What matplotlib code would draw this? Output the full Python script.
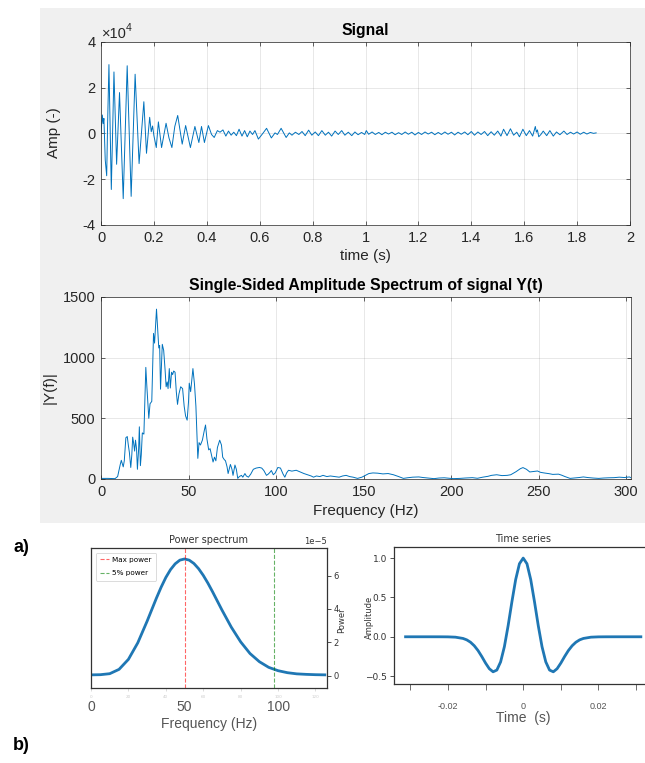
import matplotlib
matplotlib.use("Agg")
import matplotlib.pyplot as plt
from matplotlib.patches import Rectangle

# ---------------- data ----------------
# Signal: turning points (time s, amplitude in units of 1e4)
sig_t = [0.000, 0.005, 0.008, 0.011, 0.016, 0.0215, 0.025, 0.030, 0.039, 0.049,
         0.059, 0.070, 0.084, 0.099, 0.114, 0.129, 0.144, 0.162, 0.172, 0.184,
         0.190, 0.195, 0.200, 0.209, 0.217, 0.229, 0.246, 0.257, 0.268, 0.279,
         0.290, 0.307, 0.320, 0.338, 0.355, 0.370, 0.380, 0.391, 0.406, 0.418,
         0.428, 0.440, 0.450, 0.461, 0.472, 0.482, 0.492, 0.502, 0.512, 0.522,
         0.533, 0.543, 0.553, 0.563, 0.573, 0.582, 0.595, 0.612, 0.626, 0.644,
         0.658, 0.667, 0.681, 0.700, 0.712, 0.722, 0.735, 0.748, 0.760, 0.772,
         0.785, 0.797, 0.810, 0.822, 0.835, 0.848, 0.860, 0.872, 0.885, 0.897,
         0.910, 0.922, 0.935, 0.948, 0.960, 0.972, 0.985, 0.997, 1.003, 1.012,
         1.025, 1.037, 1.050, 1.062, 1.075, 1.087, 1.100, 1.112, 1.125, 1.137,
         1.150, 1.162, 1.175, 1.187, 1.200, 1.212, 1.225, 1.237, 1.250, 1.262,
         1.275, 1.287, 1.300, 1.312, 1.325, 1.337, 1.350, 1.362, 1.375, 1.387,
         1.400, 1.412, 1.425, 1.437, 1.450, 1.462, 1.475, 1.487, 1.500, 1.512,
         1.522, 1.535, 1.548, 1.560, 1.572, 1.582, 1.595, 1.608, 1.620, 1.632,
         1.642, 1.646, 1.650, 1.655, 1.663, 1.672, 1.685, 1.697, 1.710, 1.722,
         1.735, 1.750, 1.762, 1.775, 1.787, 1.800, 1.812, 1.825, 1.837, 1.850,
         1.862, 1.872]
sig_a = [0.00, 0.80, 0.43, 0.65, -1.16, -1.85, 0.43, 3.00, -2.45, 2.68,
         -1.35, 1.78, -2.85, 2.95, -2.75, 2.58, -1.32, 1.38, -0.87, 0.70,
         0.07, 0.32, -0.10, -0.62, 0.50, -0.62, 0.44, -0.20, -0.62, 0.30,
         0.78, -0.47, 0.34, -0.62, 0.30, -0.40, 0.30, -0.40, 0.34, -0.05,
         -0.18, 0.12, 0.05, 0.15, -0.12, 0.10, -0.08, 0.05, -0.10, 0.18,
         -0.12, 0.12, -0.15, 0.10, -0.05, 0.12, -0.25, 0.00, 0.22, -0.20,
         0.02, -0.05, 0.22, -0.18, 0.02, -0.08, 0.05, -0.05, 0.08, -0.10,
         0.14, -0.08, 0.06, -0.10, 0.12, -0.08, 0.05, -0.12, 0.10, -0.05,
         0.12, -0.08, 0.05, -0.10, 0.06, -0.06, 0.04, -0.05, 0.12, -0.04,
         0.06, -0.05, 0.04, -0.06, 0.05, -0.03, 0.05, -0.06, 0.03, -0.05,
         0.06, -0.04, 0.05, -0.07, 0.04, -0.05, 0.06, -0.03, 0.05, -0.06,
         0.04, -0.05, 0.06, -0.04, 0.05, -0.07, 0.05, -0.04, 0.06, -0.06,
         0.08, -0.08, 0.06, -0.05, 0.08, -0.10, 0.07, -0.08, 0.10, -0.12,
         0.18, -0.10, 0.20, -0.08, 0.05, -0.15, 0.18, -0.10, 0.12, -0.12,
         0.30, 0.05, 0.15, -0.15, -0.05, 0.10, -0.10, 0.12, -0.12, 0.06,
         -0.06, 0.10, -0.05, 0.05, -0.03, 0.06, -0.04, 0.05, -0.03, 0.04,
         0.00, 0.02]

# Single-sided amplitude spectrum (Hz, |Y(f)|)
spec_f = [0, 4, 8, 9.5, 11.0, 11.6, 12.7, 13.3, 14.2, 15.0, 15.6, 16.2, 17.0, 17.6,
          18.1, 18.6, 19.2, 19.7, 20.3, 20.8, 21.5, 21.9, 22.5, 23.0, 23.6, 24.5,
          25.6, 26.2, 27.3, 28.0, 29.0, 30.0, 30.6, 31.7, 32.5, 33.0, 33.5, 34.0,
          35.0, 35.8, 36.6, 37.2, 37.8, 38.3, 39.0, 39.6, 40.3, 40.9, 41.5, 42.3,
          43.0, 43.7, 44.5, 45.5, 46.6, 47.5, 48.3, 49.2, 50.0, 50.4, 51.2, 52.5,
          53.4, 54.2, 55.3, 56.0, 56.8, 57.9, 59.0, 59.7, 60.5, 61.5, 62.3, 63.2,
          64.0, 64.8, 65.6, 66.5, 67.8, 68.8, 69.5, 70.4, 71.1, 72.0, 72.6, 73.9,
          74.8, 75.4, 76.5, 77.3, 78.1, 79.0, 80.2, 81.0, 82.2, 83.0, 84.2, 85.5,
          87.0, 88.6, 90.5, 91.8, 93.0, 94.5, 95.5, 96.5, 97.3, 98.4, 99.5, 101.0,
          102.5, 104.0, 105.0, 106.0, 107.1, 109.0, 111.5, 113.5, 115.9, 118.0,
          120.0, 121.4, 123.0, 125.0, 126.8, 129.0, 131.0, 133.4, 136.0, 138.0,
          140.0, 142.0, 144.0, 146.5, 149.0, 151.0, 153.0, 155.3, 158.0, 161.0,
          164.0, 167.0, 170.0, 172.7, 175.0, 178.0, 181.5, 184.0, 187.0, 190.2,
          193.0, 196.0, 199.0, 201.2, 205.0, 208.0, 212.1, 215.0, 218.0, 221.0,
          223.0, 226.0, 229.0, 232.0, 234.0, 237.0, 239.5, 241.0, 243.0, 244.9,
          247.0, 249.3, 251.0, 253.0, 255.9, 258.0, 261.3, 263.0, 265.0, 267.9,
          270.0, 273.0, 275.5, 278.0, 281.0, 284.3, 287.0, 290.0, 293.0, 296.0,
          299.0, 301.8, 302.7]
spec_a = [5, 5, 3, 20, 120, 154, 100, 150, 340, 350, 280, 220, 95, 200,
          345, 300, 230, 320, 250, 80, 250, 430, 110, 200, 380, 370,
          920, 760, 500, 620, 640, 1200, 1120, 1400, 1200, 1080, 1100, 740,
          1110, 1060, 900, 760, 800, 745, 910, 750, 880, 860, 890, 880,
          720, 615, 700, 760, 745, 600, 520, 485, 640, 790, 720, 910,
          780, 600, 170, 300, 280, 320, 400, 445, 330, 240, 250, 190,
          140, 180, 150, 260, 320, 280, 180, 160, 150, 100, 45, 120,
          80, 30, 115, 80, 5, 20, 30, 15, 45, 25, 15, 40,
          80, 90, 95, 90, 70, 30, 40, 55, 70, 35, 50, 95,
          90, 40, 15, 50, 72, 65, 72, 60, 45, 35,
          25, 15, 25, 20, 30, 20, 25, 20, 15, 25,
          30, 20, 15, 5, 15, 30, 45, 50, 48, 42,
          45, 35, 20, 5, 10, 15, 17, 12, 8, 3,
          8, 10, 6, 3, 5, 8, 11, 6, 15, 22,
          30, 35, 28, 30, 35, 60, 85, 94, 80, 58,
          62, 66, 55, 50, 44, 38, 40, 32, 20, 5,
          8, 12, 17, 12, 8, 5, 8, 10, 11, 15,
          12, 17, 10]

# Power spectrum (Hz, power in units of 1e-5)
pow_f = [0, 5, 10, 15, 20, 25, 30, 35, 37.5, 40, 42.5, 45, 47.5, 50, 52.5, 55,
         57.5, 60, 62.5, 65, 70, 75, 80, 85, 90, 95, 100, 105, 110, 115, 120, 125]
pow_v = [0.05, 0.06, 0.12, 0.38, 0.98, 1.97, 3.27, 4.66, 5.31, 5.89, 6.36, 6.71,
         6.93, 7.00, 6.93, 6.73, 6.42, 6.02, 5.55, 5.03, 3.94, 2.91, 2.03, 1.33,
         0.84, 0.50, 0.30, 0.18, 0.11, 0.08, 0.06, 0.05]
max_power_freq = 50.0
five_pct_freq = 97.9

# Time series (Ricker wavelet), time s, amplitude
ts_t = [-0.03125, -0.025, -0.022, -0.020, -0.018, -0.016, -0.015, -0.014, -0.013,
        -0.012, -0.011, -0.010, -0.009, -0.008, -0.007, -0.006, -0.005, -0.004,
        -0.003, -0.002, -0.001, 0.0, 0.001, 0.002, 0.003, 0.004, 0.005, 0.006,
        0.007, 0.008, 0.009, 0.010, 0.011, 0.012, 0.013, 0.014, 0.015, 0.016,
        0.018, 0.020, 0.022, 0.025, 0.03125]
ts_a = [0.0, 0.0, -0.0002, -0.001, -0.005, -0.021, -0.039, -0.069, -0.114,
        -0.175, -0.251, -0.334, -0.406, -0.445, -0.423, -0.319, -0.126, 0.142,
        0.445, 0.727, 0.928, 1.0, 0.928, 0.727, 0.445, 0.142, -0.126, -0.319,
        -0.423, -0.445, -0.406, -0.334, -0.251, -0.175, -0.114, -0.069, -0.039, -0.021,
        -0.005, -0.001, -0.0002, 0.0, 0.0]

# ---------------- figure ----------------
W, H = 645, 763
fig = plt.figure(figsize=(W / 100, H / 100), dpi=100)
fig.patch.set_facecolor("white")


def box(l, t, r, b):
    return [l / W, 1 - b / H, (r - l) / W, (b - t) / H]


def fx(x):
    return x / W


def fy(y):
    return 1 - y / H


fig.add_artist(Rectangle((fx(40), fy(523)), (645 - 40) / W, (523 - 8) / H,
                         transform=fig.transFigure, facecolor="#f0f0f0",
                         edgecolor="none", zorder=0))

mat_font = "Liberation Sans"
dark = "#262626"
mblue = "#0072BD"


def matlab_style(ax):
    ax.set_facecolor("white")
    for s in ax.spines.values():
        s.set_color(dark)
        s.set_linewidth(0.5)
    ax.tick_params(direction="in", length=3, width=0.5, colors=dark,
                   top=True, right=True, labelsize=10.5, pad=4)
    for lab in ax.get_xticklabels() + ax.get_yticklabels():
        lab.set_fontfamily(mat_font)
    ax.grid(True, color=dark, alpha=0.12, linewidth=0.6)
    ax.set_axisbelow(True)


# --- Signal ---
ax1 = fig.add_axes(box(101, 41.7, 630, 225))
ax1.plot(sig_t, sig_a, color=mblue, lw=0.7)
ax1.set_xlim(0, 2)
ax1.set_ylim(-4, 4)
ax1.set_xticks([0, 0.2, 0.4, 0.6, 0.8, 1, 1.2, 1.4, 1.6, 1.8, 2])
ax1.set_xticklabels(["0", "0.2", "0.4", "0.6", "0.8", "1", "1.2", "1.4", "1.6", "1.8", "2"])
ax1.set_yticks([-4, -2, 0, 2, 4])
ax1.set_yticklabels(["-4", "-2", "0", "2", "4"])
matlab_style(ax1)
fig.text(fx(365.5), fy(31), "Signal", ha="center", va="center", fontsize=11.3,
         fontweight="bold", family=mat_font, color="black")
fig.text(fx(101.5), fy(34), "\u00d710", ha="left", va="center", fontsize=10.5,
         family=mat_font, color=dark)
fig.text(fx(125.5), fy(28), "4", ha="left", va="center", fontsize=7.5,
         family=mat_font, color=dark)
fig.text(fx(365.5), fy(256), "time (s)", ha="center", va="center", fontsize=11,
         family=mat_font, color=dark)
fig.text(fx(54), fy(133), "Amp (-)", ha="center", va="center", fontsize=11,
         family=mat_font, color=dark, rotation=90)

# --- Spectrum ---
ax2 = fig.add_axes(box(101, 297, 631, 479))
ax2.plot(spec_f, spec_a, color=mblue, lw=0.7)
ax2.set_xlim(0, 302.7)
ax2.set_ylim(0, 1500)
ax2.set_xticks([0, 50, 100, 150, 200, 250, 300])
ax2.set_yticks([0, 500, 1000, 1500])
matlab_style(ax2)
fig.text(fx(366), fy(286), "Single-Sided Amplitude Spectrum of signal Y(t)",
         ha="center", va="center", fontsize=11.3, fontweight="bold",
         family=mat_font, color="black")
fig.text(fx(366), fy(511), "Frequency (Hz)", ha="center", va="center",
         fontsize=11, family=mat_font, color=dark)
fig.text(fx(50), fy(388), "|Y(f)|", ha="center", va="center", fontsize=11,
         family=mat_font, color=dark, rotation=90)

# --- panel letters ---
fig.text(fx(13), fy(548), "a)", ha="left", va="center", fontsize=13,
         fontweight="bold", family=mat_font, color="black")
fig.text(fx(13), fy(745), "b)", ha="left", va="center", fontsize=13,
         fontweight="bold", family=mat_font, color="black")

pblue = "#1f77b4"

# --- Power spectrum ---
ax3 = fig.add_axes(box(91, 548.3, 326.7, 687.7))
ax3.plot(pow_f, [v * 1e-5 for v in pow_v], color=pblue, lw=2)
ax3.axvline(max_power_freq, color="red", ls="--", lw=0.8, alpha=0.6, label="Max power")
ax3.axvline(five_pct_freq, color="green", ls="--", lw=0.8, alpha=0.6, label="5% power")
ax3.set_xlim(0, 126)
ax3.set_ylim(-0.72e-5, 7.64e-5)
ax3.yaxis.tick_right()
ax3.set_yticks([0, 2e-5, 4e-5, 6e-5])
ax3.tick_params(axis="y", labelsize=6, length=3, width=0.6, colors="#333333", pad=2)
ax3.yaxis.get_offset_text().set_fontsize(6)
ax3.yaxis.get_offset_text().set_color("#333333")
ax3.set_xticks([0, 20, 40, 60, 80, 100, 120])
ax3.set_xticklabels(["0", "20", "40", "60", "80", "100", "120"])
ax3.tick_params(axis="x", labelsize=3, length=2, width=0.5, colors="#cccccc", pad=3)
for s in ax3.spines.values():
    s.set_color("#333333")
    s.set_linewidth(0.9)
leg = ax3.legend(loc="upper left", fontsize=5.2, handlelength=1.2,
                 handletextpad=0.5, frameon=True, borderpad=0.6,
                 labelspacing=1.0, bbox_to_anchor=(0.005, 0.995))
leg.get_frame().set_edgecolor("#cccccc")
leg.get_frame().set_linewidth(0.6)
ax3.set_title("Power spectrum", fontsize=7, color="#333333", pad=4)
fig.text(fx(342), fy(620), "Power", ha="center", va="center", fontsize=6,
         color="#333333", rotation=90)
for xv, lab in zip([0, 50, 100], ["0", "50", "100"]):
    ax3.text(xv, -0.14, lab, transform=ax3.get_xaxis_transform(), ha="center",
             va="center", fontsize=10, color="#555555", family=mat_font)
fig.text(fx(209), fy(724), "Frequency (Hz)", ha="center", va="center",
         fontsize=10, color="#555555", family=mat_font)

# --- Time series ---
ax4 = fig.add_axes(box(393.8, 547.3, 652.6, 684))
ax4.plot(ts_t, ts_a, color=pblue, lw=2)
ax4.set_xlim(-0.034375, 0.034375)
ax4.set_ylim(-0.60, 1.137)
ax4.set_yticks([-0.5, 0.0, 0.5, 1.0])
ax4.set_yticklabels(["\u22120.5", "0.0", "0.5", "1.0"])
ax4.tick_params(axis="y", labelsize=6.5, length=3, width=0.6, colors="#333333", pad=2)
ax4.set_xticks([-0.03, -0.02, -0.01, 0, 0.01, 0.02, 0.03])
ax4.set_xticklabels(["", "-0.02", "", "0", "", "0.02", ""])
ax4.tick_params(axis="x", labelsize=6.5, length=4, width=0.6, colors="#555555", pad=9)
for lab in ax4.get_xticklabels():
    lab.set_fontfamily(mat_font)
for s in ax4.spines.values():
    s.set_color("#333333")
    s.set_linewidth(0.9)
ax4.set_title("Time series", fontsize=7, color="#333333", pad=4)
fig.text(fx(369), fy(617), "Amplitude", ha="center", va="center", fontsize=6,
         color="#333333", rotation=90)
fig.text(fx(523), fy(718), "Time  (s)", ha="center", va="center",
         fontsize=10, color="#555555", family=mat_font)

fig.savefig("out.png", dpi=100)
